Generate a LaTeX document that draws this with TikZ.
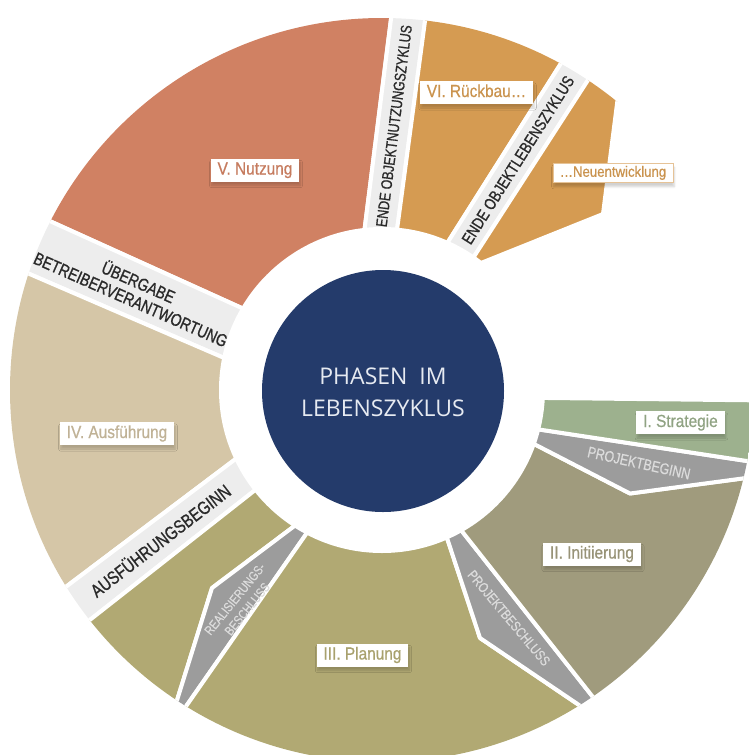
\documentclass[tikz,border=0pt]{standalone}
\usepackage{fontspec}
\setmainfont{Liberation Sans}
\newfontfamily\bandfont{Liberation Sans}[FakeStretch=0.8,FakeBold=0.9]
\newfontfamily\stonefont{Liberation Sans}[FakeStretch=0.8,FakeBold=0.5]
\newfontfamily\tagfont{Liberation Sans}[FakeStretch=0.88,FakeBold=0.6]
\newfontfamily\hubfont{Open Sans}
\usetikzlibrary{shadows.blur}

\definecolor{navy}{HTML}{243B6B}
\definecolor{hubtext}{HTML}{E6EAF1}
\definecolor{coral}{HTML}{D08163}
\definecolor{ochre}{HTML}{D59B52}
\definecolor{bandgrey}{HTML}{EDEDED}
\definecolor{beige}{HTML}{D5C6A7}
\definecolor{olive}{HTML}{B1A973}
\definecolor{khaki}{HTML}{A09B7D}
\definecolor{sage}{HTML}{9DB18E}
\definecolor{stone}{HTML}{9C9C9C}
\definecolor{stonetext}{HTML}{DCDCDC}
\definecolor{inktext}{HTML}{2A2A2A}

\begin{document}
\begin{tikzpicture}[x=1pt,y=-1pt,
  piece/.style={draw=white, line width=4pt, line join=round},
  tag/.style={fill=white, inner xsep=7pt, inner ysep=3.5pt,
    text height=12.5pt, text depth=3.5pt,
    font=\tagfont\fontsize{17.5}{18}\selectfont,
    blur shadow={shadow xshift=1pt, shadow yshift=-4pt,
      shadow blur steps=6, shadow opacity=18}},
  bandtxt/.style={inner sep=0pt, text=inktext, align=center},
  stonetxt/.style={inner sep=0pt, text=stonetext, align=center},
  hub/.style={inner sep=0pt, text=hubtext, align=center,
    font=\hubfont\fontsize{23}{32}\selectfont}]

\useasboundingbox (0,0) rectangle (749,755);
\coordinate (C) at (382,390);

\begin{scope}
  \clip (0,0) rectangle (749,755);
  \clip (C) circle (372);
  % V. Nutzung
  \path[piece, fill=coral] (-40,180.4) -- (-40,-40) -- (398.4,-40)
    -- (355.7,300) -- (300,334.4) -- cycle;
  % band: Ende Objektnutzungszyklus
  \path[piece, fill=bandgrey] (398.4,-40) -- (433.2,-40) -- (387.6,300)
    -- (355.7,300) -- cycle;
  % VI. Rueckbau
  \path[piece, fill=ochre] (433.2,-40) -- (626.4,-40) -- (411.2,300)
    -- (387.6,300) -- cycle;
  % band: Ende Objektlebenszyklus
  \path[piece, fill=bandgrey] (626.4,-40) -- (665.6,-40) -- (445.9,300)
    -- (411.2,300) -- cycle;
  % Neuentwicklung
  \path[piece, fill=ochre] (613.9,40) -- (625,40) -- (618,96)
    -- (603,214) -- (466,269) -- cycle;
  % band: Uebergabe Betreiberverantwortung
  \path[piece, fill=bandgrey] (-40,180.4) -- (300,334.4) -- (300,390.7)
    -- (-40,244) -- cycle;
  % IV. Ausfuehrung
  \path[piece, fill=beige] (-40,244) -- (300,390.7) -- (300,410.5)
    -- (-40,666.6) -- cycle;
  % band: Ausfuehrungsbeginn
  \path[piece, fill=bandgrey] (-40,666.6) -- (300,410.5) -- (300,454.8)
    -- (-40,722) -- cycle;
  % olive part before Realisierungsbeschluss
  \path[piece, fill=olive] (-40,722) -- (300,454.8) -- (333,497)
    -- (212,588) -- (164,742) -- (100,800) -- (-40,800) -- cycle;
  % Realisierungsbeschluss
  \path[piece, fill=stone] (333,497) -- (212,588) -- (164,742)
    -- (150,758) -- (348,474) -- cycle;
  % III. Planung
  \path[piece, fill=olive] (348,474) -- (150,758) -- (150,800) -- (700,800)
    -- (628.5,738.5) -- (480,638) -- (417,447) -- cycle;
  % Projektbeschluss
  \path[piece, fill=stone] (417,447) -- (480,638) -- (628.5,738.5)
    -- (632,746.5) -- (382,430) -- cycle;
  % II. Initiierung
  \path[piece, fill=khaki] (382,430) -- (632,746.5) -- (770,760)
    -- (770,474.8) -- (630,493.5) -- (460.8,406.2) -- cycle;
  % Projektbeginn
  \path[piece, fill=stone] (460,417.5) -- (770,464.5) -- (770,474.8)
    -- (630,493.5) -- (460.8,406.2) -- cycle;
  % I. Strategie
  \path[piece, fill=sage] (460,397) -- (770,400.5) -- (770,464.5)
    -- (460,417.5) -- cycle;
\end{scope}

% hub
\fill[white] (C) circle (163);
\fill[navy] (383,391) circle (121);
\node[hub] (hub) at (383,392) {PHASEN\ \ IM\\LEBENSZYKLUS};

% milestone bands
\node[bandtxt, rotate=82.8, font=\bandfont\fontsize{15.5}{16}\selectfont]
  (endnutz) at (394,126) {ENDE OBJEKTNUTZUNGSZYKLUS};
\node[bandtxt, rotate=57.7, font=\bandfont\fontsize{16.5}{16}\selectfont]
  (endleben) at (518,160) {ENDE OBJEKTLEBENSZYKLUS};
\node[bandtxt, rotate=-23.8, font=\bandfont\fontsize{17.5}{19}\selectfont]
  (uebergabe) at (135,290) {ÜBERGABE\\BETREIBERVERANTWORTUNG};
\node[bandtxt, rotate=37.6, font=\bandfont\fontsize{18.5}{18}\selectfont]
  (ausbeginn) at (160,540) {AUSFÜHRUNGSBEGINN};

% decision wedges
\node[stonetxt, rotate=-12.5, font=\stonefont\fontsize{15.5}{16}\selectfont]
  (pbeginn) at (639,463) {PROJEKTBEGINN};
\node[stonetxt, rotate=-50, font=\stonefont\fontsize{14}{14}\selectfont]
  (pbeschluss) at (509,618) {PROJEKTBESCHLUSS};
\node[stonetxt, rotate=51, font=\stonefont\fontsize{13}{16}\selectfont]
  (rbeschluss) at (241,604) {REALISIERUNGS-\\BESCHLUSS};

% phase tags
\node[tag, text=coral!95!black] (nutzung) at (255,170) {V. Nutzung};
\node[tag, text=ochre!95!black] (rueckbau) at (476.5,92.5) {VI. Rückbau…};
\node[tag, text=ochre!95!black, font=\tagfont\fontsize{15}{16}\selectfont,
  text height=10.5pt, text depth=3pt, inner ysep=3pt, draw=ochre!60,
  line width=0.6pt] (neu) at (613,173) {…Neuentwicklung};
\node[tag, text=beige!90!black] (ausf) at (117,433.5) {IV. Ausführung};
\node[tag, text=olive!95!black] (planung) at (362.5,655) {III. Planung};
\node[tag, text=khaki!95!black] (init) at (592,554) {II. Initiierung};
\node[tag, text=sage!92!black] (strat) at (680.5,422.5) {I. Strategie};
\end{tikzpicture}
\end{document}
